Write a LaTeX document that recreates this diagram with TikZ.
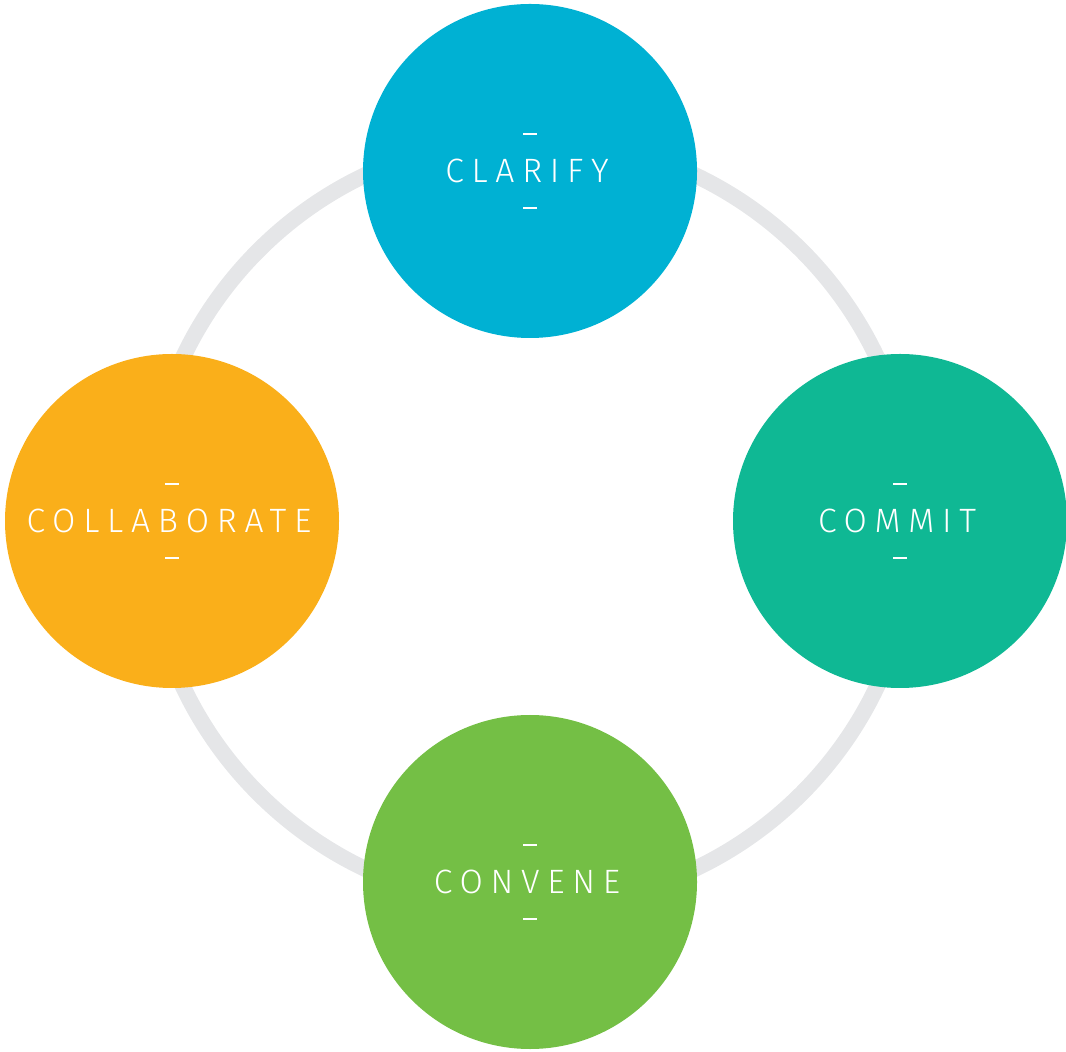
\documentclass[tikz,border=0pt]{standalone}
\usepackage{fontspec}
\newfontfamily\stagefont{Fira Sans Light}[LetterSpace=23]
\usetikzlibrary{calc}

\definecolor{ringgray}{HTML}{E5E6E8}
\definecolor{clarifyblue}{HTML}{00B1D3}
\definecolor{committeal}{HTML}{0FB894}
\definecolor{convenegreen}{HTML}{74BF45}
\definecolor{collaborateorange}{HTML}{FAAF1A}

\tikzset{
	stage/.style={circle, minimum size=3.34cm, inner sep=0pt, text=white,
		font=\stagefont\fontsize{9.6}{11}\selectfont},
	stagebar/.style={white, line width=0.02cm},
}

\begin{document}
\begin{tikzpicture}
	\useasboundingbox (0,0) rectangle (10.66,10.51);
	
	% grey ring behind the stages
	\draw[ringgray, line width=0.16cm] (5.30,5.29) circle (3.84);
	
	% the four stages, each with a short bar above and below its name
	\foreach \name/\x/\y/\col/\txt in {
		clarify/5.30/8.80/clarifyblue/CLARIFY,
		commit/9.00/5.30/committeal/COMMIT,
		convene/5.30/1.69/convenegreen/CONVENE,
		collaborate/1.72/5.30/collaborateorange/COLLABORATE}{
		\node[stage, fill=\col] (\name) at (\x,\y) {\txt\kern0.06cm};
		\draw[stagebar] ($(\name.center)+(-0.07,0.37)$) -- ++(0.14,0);
		\draw[stagebar] ($(\name.center)+(-0.07,-0.37)$) -- ++(0.14,0);
	}
\end{tikzpicture}
\end{document}
